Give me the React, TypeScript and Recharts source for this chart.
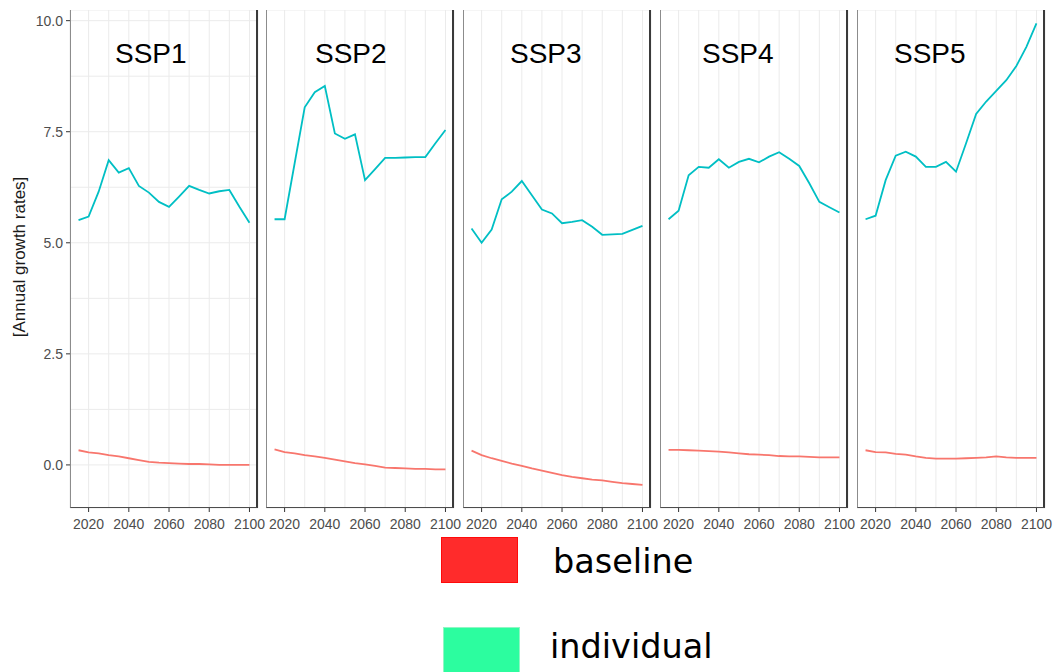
import { LineChart, Line, XAxis, YAxis, CartesianGrid } from "recharts";

const years = [2015, 2020, 2025, 2030, 2035, 2040, 2045, 2050, 2055, 2060, 2065, 2070, 2075, 2080, 2085, 2090, 2095, 2100];

const ssp1Individual = [5.51, 5.59, 6.15, 6.86, 6.58, 6.68, 6.28, 6.13, 5.92, 5.81, 6.04, 6.28, 6.19, 6.11, 6.16, 6.19, 5.81, 5.45];
const ssp1Baseline = [0.33, 0.28, 0.26, 0.22, 0.19, 0.15, 0.11, 0.07, 0.05, 0.04, 0.03, 0.02, 0.02, 0.01, 0.0, 0.0, 0.0, 0.0];

const ssp2Individual = [5.53, 5.53, 6.79, 8.05, 8.39, 8.53, 7.46, 7.34, 7.44, 6.41, 6.66, 6.91, 6.91, 6.92, 6.93, 6.93, 7.24, 7.54];
const ssp2Baseline = [0.35, 0.29, 0.26, 0.22, 0.19, 0.16, 0.12, 0.08, 0.04, 0.01, -0.02, -0.06, -0.07, -0.08, -0.09, -0.09, -0.1, -0.1];

const ssp3Individual = [5.32, 5.0, 5.3, 5.98, 6.15, 6.39, 6.07, 5.75, 5.66, 5.44, 5.47, 5.51, 5.36, 5.18, 5.19, 5.2, 5.29, 5.38];
const ssp3Baseline = [0.32, 0.22, 0.15, 0.09, 0.03, -0.02, -0.08, -0.13, -0.18, -0.23, -0.27, -0.3, -0.33, -0.35, -0.38, -0.41, -0.43, -0.45];

const ssp4Individual = [5.53, 5.72, 6.52, 6.71, 6.69, 6.88, 6.69, 6.82, 6.89, 6.81, 6.94, 7.04, 6.89, 6.73, 6.34, 5.92, 5.8, 5.68];
const ssp4Baseline = [0.34, 0.34, 0.33, 0.32, 0.31, 0.3, 0.28, 0.26, 0.24, 0.23, 0.22, 0.2, 0.19, 0.19, 0.18, 0.17, 0.17, 0.17];

const ssp5Individual = [5.53, 5.61, 6.41, 6.96, 7.05, 6.94, 6.71, 6.71, 6.82, 6.6, 7.24, 7.9, 8.18, 8.42, 8.66, 8.98, 9.41, 9.94];
const ssp5Baseline = [0.33, 0.29, 0.28, 0.25, 0.23, 0.19, 0.16, 0.14, 0.14, 0.14, 0.15, 0.16, 0.17, 0.19, 0.17, 0.16, 0.16, 0.16];

const panelNames = ["SSP1", "SSP2", "SSP3", "SSP4", "SSP5"];
const xGridTicks = [2020, 2030, 2040, 2050, 2060, 2070, 2080, 2090, 2100];
const yGridTicks = [0, 1.25, 2.5, 3.75, 5, 6.25, 7.5, 8.75, 10];

const panels = [
  { name: panelNames[0], individual: ssp1Individual, baseline: ssp1Baseline },
  { name: panelNames[1], individual: ssp2Individual, baseline: ssp2Baseline },
  { name: panelNames[2], individual: ssp3Individual, baseline: ssp3Baseline },
  { name: panelNames[3], individual: ssp4Individual, baseline: ssp4Baseline },
  { name: panelNames[4], individual: ssp5Individual, baseline: ssp5Baseline },
];

const panelLeft = [70, 266, 463, 660, 857];
const PANEL_W = 188;
const PLOT_TOP = 10;
const PLOT_H = 498;
const TICK_FONT = '"Liberation Sans", Arial, sans-serif';

function XTick(props: any) {
  const { x, y, payload } = props;
  const v = payload.value;
  if (v % 20 !== 0) return <g />;
  return (
    <g>
      <line x1={x} y1={y} x2={x} y2={y + 4} stroke="#333" strokeWidth={1} />
      <text x={x} y={y + 21} textAnchor="middle" fill="#4d4d4d" fontSize={14} fontFamily={TICK_FONT}>
        {v}
      </text>
    </g>
  );
}

function YTick(props: any) {
  const { x, y, payload } = props;
  const v = payload.value;
  if (v % 2.5 !== 0) return <g />;
  return (
    <g>
      <line x1={x - 4} y1={y} x2={x} y2={y} stroke="#333" strokeWidth={1} />
      <text x={x - 7} y={y + 5} textAnchor="end" fill="#4d4d4d" fontSize={14} fontFamily={TICK_FONT}>
        {v.toFixed(1)}
      </text>
    </g>
  );
}

function Panel({ index }: { index: number }) {
  const p = panels[index];
  const first = index === 0;
  const data = years.map((year, i) => ({
    year,
    individual: p.individual[i],
    baseline: p.baseline[i],
  }));
  const yWidth = first ? 70 : 0;
  return (
    <div
      style={{
        position: "absolute",
        left: first ? 0 : panelLeft[index],
        top: PLOT_TOP,
      }}
    >
      <LineChart
        width={yWidth + PANEL_W + 8}
        height={PLOT_H + 30}
        data={data}
        margin={{ top: 0, right: 8, left: 0, bottom: 0 }}
      >
        <CartesianGrid stroke="#ebebeb" strokeWidth={1} />
        <XAxis
          dataKey="year"
          type="number"
          domain={[2010.75, 2104.25]}
          ticks={xGridTicks}
          interval={0}
          tickSize={0}
          tickMargin={0}
          tickLine={false}
          axisLine={false}
          tick={<XTick />}
          height={30}
          allowDataOverflow
        />
        <YAxis
          type="number"
          domain={[-0.97, 10.24]}
          ticks={yGridTicks}
          interval={0}
          tickSize={0}
          tickMargin={0}
          tickLine={false}
          axisLine={false}
          tick={first ? <YTick /> : false}
          width={yWidth}
          hide={!first}
          allowDataOverflow
        />
        <Line
          dataKey="baseline"
          stroke="#F8766D"
          strokeWidth={1.8}
          dot={false}
          activeDot={false}
          isAnimationActive={false}
        />
        <Line
          dataKey="individual"
          stroke="#00BFC4"
          strokeWidth={1.8}
          dot={false}
          activeDot={false}
          isAnimationActive={false}
        />
      </LineChart>
    </div>
  );
}

const titleLeft = [115, 315, 510, 702, 894];

export default function App() {
  return (
    <div
      style={{
        position: "absolute",
        left: 0,
        top: 0,
        width: 1055,
        height: 672,
        background: "#fff",
        overflow: "hidden",
      }}
    >
      {panels.map((p, i) => (
        <Panel key={p.name} index={i} />
      ))}
      {panels.map((p, i) => (
        <div
          key={"b" + p.name}
          style={{
            position: "absolute",
            left: panelLeft[i],
            top: PLOT_TOP,
            width: PANEL_W,
            height: PLOT_H,
            boxSizing: "border-box",
            borderLeft: "1px solid #8c8c8c",
            borderRight: "2px solid #3a3a3a",
            borderBottom: "1px solid #4d4d4d",
            pointerEvents: "none",
          }}
        />
      ))}
      {panels.map((p, i) => (
        <div
          key={"t" + p.name}
          style={{
            position: "absolute",
            left: titleLeft[i],
            top: 40,
            fontFamily: '"Liberation Sans", Arial, sans-serif',
            fontSize: 28,
            lineHeight: "28px",
            color: "#000",
            whiteSpace: "nowrap",
          }}
        >
          {p.name}
        </div>
      ))}
      <div
        style={{
          position: "absolute",
          left: 20,
          top: 257,
          transform: "translate(-50%, -50%) rotate(-90deg)",
          fontFamily: '"Liberation Sans", Arial, sans-serif',
          fontSize: 17,
          color: "#1a1a1a",
          whiteSpace: "nowrap",
        }}
      >
        [Annual growth rates]
      </div>
      <div
        style={{
          position: "absolute",
          left: 441,
          top: 537,
          width: 77,
          height: 46,
          boxSizing: "border-box",
          background: "#ff2b2b",
          border: "1.5px solid #ff0a0a",
        }}
      />
      <div
        style={{
          position: "absolute",
          left: 553,
          top: 545,
          fontFamily: '"DejaVu Sans", sans-serif',
          fontSize: 33.5,
          lineHeight: "33.5px",
          color: "#000",
          whiteSpace: "nowrap",
        }}
      >
        baseline
      </div>
      <div
        style={{
          position: "absolute",
          left: 443,
          top: 627,
          width: 77,
          height: 50,
          boxSizing: "border-box",
          background: "#2cfd9f",
          border: "1.5px solid #8ff7c4",
        }}
      />
      <div
        style={{
          position: "absolute",
          left: 550,
          top: 630,
          fontFamily: '"DejaVu Sans", sans-serif',
          fontSize: 33.5,
          lineHeight: "33.5px",
          color: "#000",
          whiteSpace: "nowrap",
        }}
      >
        individual
      </div>
    </div>
  );
}
